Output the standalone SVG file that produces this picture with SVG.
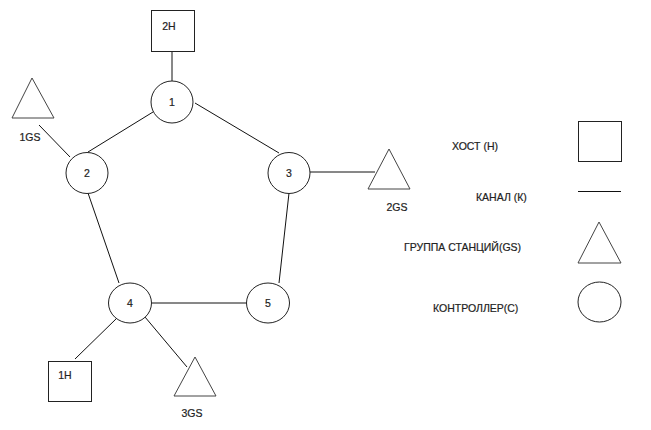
<svg xmlns="http://www.w3.org/2000/svg" width="651" height="430" viewBox="0 0 651 430">
<style>
.shape{fill:#fff;stroke:#222;stroke-width:1}
.tri{fill:#fff;stroke:#444;stroke-width:1}
.ln{stroke:#111;stroke-width:1;fill:none}
text{font-family:"Liberation Sans",Arial,sans-serif;font-size:10.5px;fill:#222;stroke:#222;stroke-width:0.2}
.c{text-anchor:middle}
</style>
<rect width="651" height="430" fill="#fff"/>
<g id="connectors">
<line class="ln" x1="172" y1="52" x2="172" y2="81"/>
<line class="ln" x1="153" y1="112" x2="88" y2="152"/>
<line class="ln" x1="195" y1="103" x2="279" y2="153"/>
<line class="ln" x1="39" y1="125" x2="70" y2="157"/>
<line class="ln" x1="310" y1="172" x2="375" y2="172"/>
<line class="ln" x1="88" y1="193" x2="119" y2="283"/>
<line class="ln" x1="289" y1="193" x2="279" y2="283"/>
<line class="ln" x1="152" y1="303" x2="247" y2="303"/>
<line class="ln" x1="117" y1="318" x2="75" y2="359"/>
<line class="ln" x1="145" y1="317" x2="187" y2="367"/>
</g>
<g id="host-2H">
<rect class="shape" x="151.5" y="10.5" width="43" height="41"/>
<text class="c" x="169" y="30">2H</text>
</g>
<g id="ctrl-1">
<ellipse class="shape" cx="172" cy="102" rx="21" ry="21"/>
<text class="c" x="172" y="106">1</text>
</g>
<g id="ctrl-2">
<ellipse class="shape" cx="87" cy="173" rx="21" ry="20.5"/>
<text class="c" x="87" y="177">2</text>
</g>
<g id="ctrl-3">
<ellipse class="shape" cx="289" cy="173" rx="21" ry="20.5"/>
<text class="c" x="289" y="177">3</text>
</g>
<g id="ctrl-4">
<ellipse class="shape" cx="130" cy="303" rx="21.5" ry="20"/>
<text class="c" x="130" y="307">4</text>
</g>
<g id="ctrl-5">
<ellipse class="shape" cx="268" cy="303" rx="21.5" ry="20"/>
<text class="c" x="268" y="307">5</text>
</g>
<g id="gs-1">
<polygon class="tri" points="32,78 54,118 12,118"/>
<text class="c" x="30" y="141">1GS</text>
</g>
<g id="gs-2">
<polygon class="tri" points="389,149 410,189 368,189"/>
<text class="c" x="397" y="211">2GS</text>
</g>
<g id="gs-3">
<polygon class="tri" points="195,357 216,396 174,396"/>
<text class="c" x="192" y="417">3GS</text>
</g>
<g id="host-1H">
<rect class="shape" x="48.5" y="361.5" width="43" height="40"/>
<text class="c" x="65" y="379">1H</text>
</g>
<g id="legend">
<text x="452" y="150">ХОСТ (Н)</text>
<rect class="shape" x="578.5" y="121.5" width="43" height="40"/>
<text x="476" y="201">КАНАЛ (К)</text>
<line class="ln" x1="578" y1="191.5" x2="621" y2="191.5"/>
<text x="404" y="251">ГРУППА СТАНЦИЙ(GS)</text>
<polygon class="tri" points="599,222 621,263 578,263"/>
<text x="433" y="312">КОНТРОЛЛЕР(С)</text>
<ellipse class="shape" cx="599.5" cy="302" rx="21.5" ry="20"/>
</g>
</svg>
